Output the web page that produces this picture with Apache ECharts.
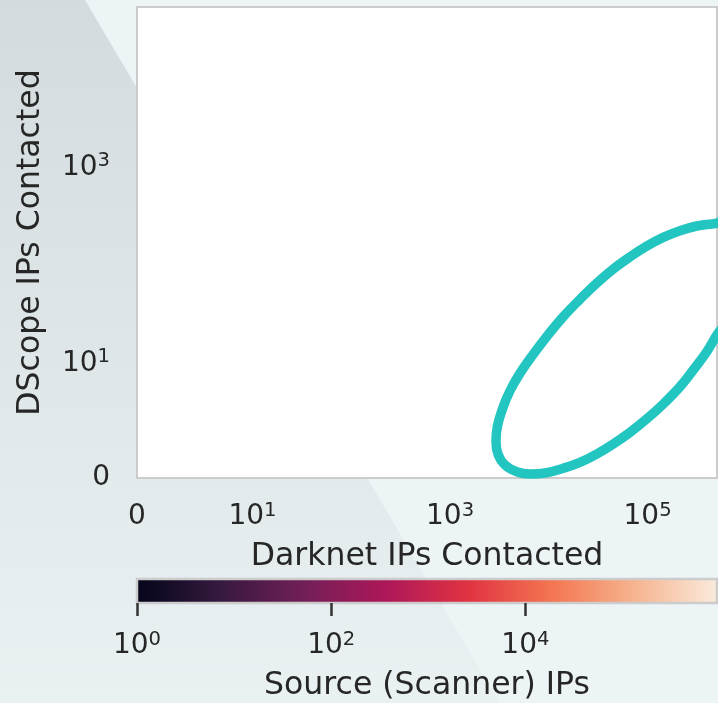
<!DOCTYPE html>
<html>
<head>
<meta charset="utf-8">
<script src="https://cdn.jsdelivr.net/npm/echarts@6/dist/echarts.min.js"></script>
<style>
  html, body { margin: 0; padding: 0; background: #ecf4f6; }
  #chart { width: 718px; height: 703px; }
</style>
</head>
<body>
<div id="chart"></div>
<script>
// contour of the scanner density (closed loop, first point repeated)
const darknetIPs = [1.28e6, 1.09e6, 8.24e5, 6.08e5, 5.17e5, 3.15e5, 2.13e5, 1.44e5, 9.8e4, 6.64e4, 4.5e4,
  3.05e4, 2.07e4, 1.40e4, 9.5e3, 6.97e3, 5.1e3, 4.05e3, 3.41e3, 3.01e3, 2.92e3, 3.08e3, 3.6e3, 4.73e3,
  6.45e3, 9.5e3, 1.40e4, 2.07e4, 3.05e4, 4.5e4, 6.64e4, 9.8e4, 1.44e5, 2.13e5, 2.9e5, 3.97e5, 5.17e5,
  6.84e5, 9.7e5, 1.22e6, 1.28e6];
const dscopeIPs = [161, 230, 277, 297, 272, 252, 226, 193, 157, 122, 91.8,
  65.6, 45.0, 29.9, 18.7, 12.4, 9.13, 7.61, 6.08, 4.47, 3.17, 2.01, 1.13, 0.55,
  0.35, 0.46, 0.85, 1.37, 2.09, 2.97, 3.98, 5.15, 6.45, 7.96, 9.42, 13.1, 20.3,
  29.0, 53.5, 101, 161];

const xTicks = [0, 10, 1000, 100000];
const yTicks = [0, 10, 1000];
const cbarTicks = [1, 100, 10000];
const xMaxValue = 5.05e5;
const yMaxValue = 4.33e4;
const cbarMaxValue = 9.4e5;

// rocket colormap
const rocketStops = ["#03051a", "#35193e", "#701f57", "#ad1759", "#e13342", "#f37651", "#f6b48f", "#faebdd"];

// symlog scale: 0..10 linear, log above
const LIN = 1.17;
function symlog(v) {
  return v <= 10 ? v / 10 * LIN : LIN + Math.log10(v / 10);
}

const TXT = "#262626";
const FONT = "DejaVu Sans";

function supLabel(v) {
  if (v === 0) return "{b|0}";
  return "{b|10}{s|" + Math.round(Math.log10(v)) + "}";
}
function findTick(ticks, fn, val) {
  for (let t of ticks) {
    if (Math.abs(fn(t) - val) < 1e-6) return supLabel(t);
  }
  return "";
}
const rich = {
  b: { fontSize: 28, lineHeight: 32, color: TXT, fontFamily: FONT },
  s: { fontSize: 19.6, lineHeight: 22, verticalAlign: "top", color: TXT, fontFamily: FONT }
};

const contour = darknetIPs.map((d, i) => [symlog(d), symlog(dscopeIPs[i])]);

const chart = echarts.init(document.getElementById("chart"));
chart.setOption({
  backgroundColor: "#ecf4f6",
  animation: false,
  graphic: [
    {
      type: "polygon",
      z: -10,
      silent: true,
      shape: { points: [[0, 0], [85, 0], [500, 703], [0, 703]] },
      style: {
        fill: new echarts.graphic.LinearGradient(0, 0, 0, 1, [
          { offset: 0, color: "#d3dbde" },
          { offset: 1, color: "#e9f1f3" }
        ])
      }
    }
  ],
  grid: [
    {
      left: 137, right: 1, top: 7, bottom: 225,
      show: true, backgroundColor: "#ffffff", borderColor: "#cccccc", borderWidth: 2
    },
    {
      left: 137, right: 1, top: 579, height: 27,
      show: true,
      backgroundColor: new echarts.graphic.LinearGradient(0, 0, 1, 0,
        rocketStops.map((c, i) => ({ offset: i / (rocketStops.length - 1), color: c }))),
      borderColor: "#cccccc", borderWidth: 2.5
    }
  ],
  xAxis: [
    {
      gridIndex: 0, type: "value", min: 0, max: symlog(xMaxValue),
      name: "Darknet IPs Contacted", nameLocation: "middle", nameGap: 63,
      nameTextStyle: { fontSize: 31.5, color: TXT, fontFamily: FONT },
      axisLine: { show: false }, axisTick: { show: false }, splitLine: { show: false },
      axisLabel: {
        margin: 23, customValues: xTicks.map(symlog), rich: rich,
        formatter: v => findTick(xTicks, symlog, v)
      }
    },
    {
      gridIndex: 1, type: "value", min: 0, max: Math.log10(cbarMaxValue),
      name: "Source (Scanner) IPs", nameLocation: "middle", nameGap: 67,
      nameTextStyle: { fontSize: 31.5, color: TXT, fontFamily: FONT },
      axisLine: { show: false }, splitLine: { show: false },
      axisTick: {
        show: true, length: 13, customValues: cbarTicks.map(Math.log10),
        lineStyle: { color: "#333333", width: 2.5 }
      },
      axisLabel: {
        margin: 27, customValues: cbarTicks.map(Math.log10), rich: rich,
        formatter: v => findTick(cbarTicks, Math.log10, v)
      }
    }
  ],
  yAxis: [
    {
      gridIndex: 0, type: "value", min: 0, max: symlog(yMaxValue),
      name: "DScope IPs Contacted", nameLocation: "middle", nameGap: 90,
      nameTextStyle: { fontSize: 31.5, color: TXT, fontFamily: FONT },
      axisLine: { show: false }, axisTick: { show: false }, splitLine: { show: false },
      axisLabel: {
        margin: 27, customValues: yTicks.map(symlog), rich: rich,
        formatter: v => findTick(yTicks, symlog, v)
      }
    },
    {
      gridIndex: 1, type: "value", min: 0, max: 1, show: false
    }
  ],
  series: [
    {
      type: "line",
      xAxisIndex: 0, yAxisIndex: 0,
      data: contour,
      smooth: 0.4,
      symbol: "none",
      clip: true,
      lineStyle: { color: "#22c5bf", width: 9.5 }
    }
  ]
});
</script>
</body>
</html>
